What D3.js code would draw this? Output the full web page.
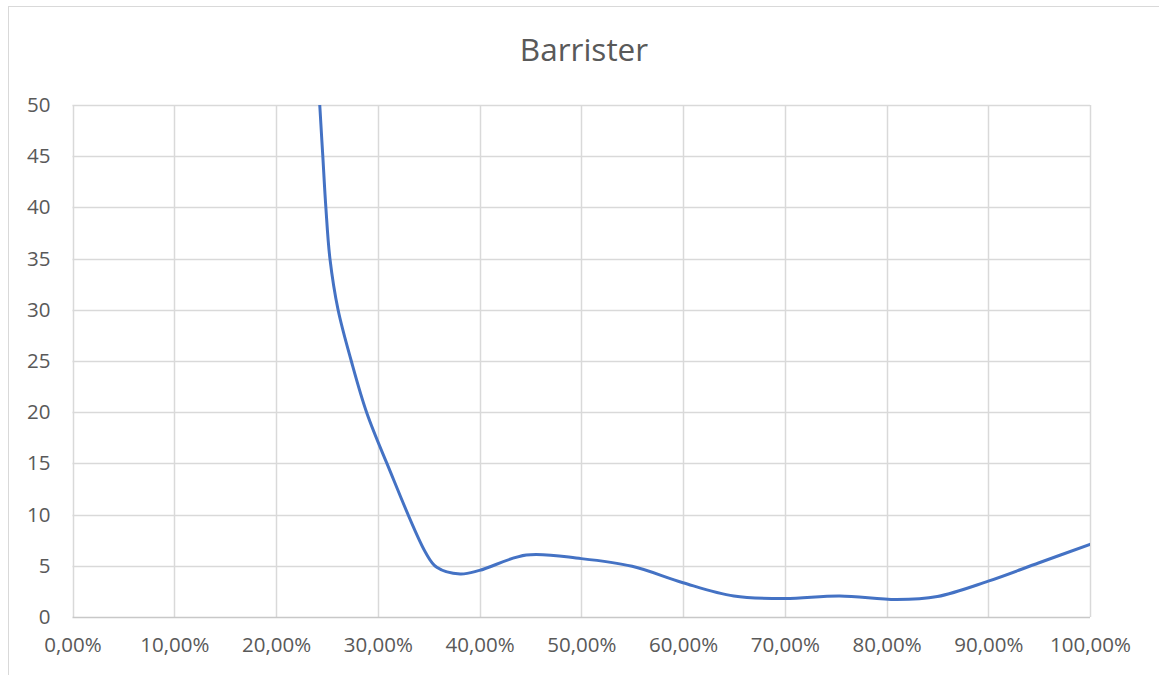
<!DOCTYPE html>
<html>
<head>
<meta charset="utf-8" />
<title>Barrister</title>
<script src="https://d3js.org/d3.v7.min.js"></script>
<style type="text/css">
body { margin: 0; background: #fff; }
text { font-family: "Open Sans", sans-serif; fill: #595959; }
</style>
</head>
<body>
<div id="svg"></div>
<script type="text/javascript">
var width = 1159,
    height = 675;

// data (x share, y value)
var xValues = [0.238, 0.243, 0.246, 0.249, 0.253, 0.261, 0.274, 0.289, 0.309, 0.347, 0.358, 0.381, 0.40, 0.446, 0.50, 0.55, 0.60, 0.65, 0.70, 0.754, 0.81, 0.85, 0.90, 0.95, 1.00];
var yValues = [60, 50, 45, 40, 35, 30, 25, 20, 15, 6.3, 4.85, 4.2, 4.55, 6.05, 5.7, 4.95, 3.35, 2.05, 1.8, 2.05, 1.7, 2.0, 3.5, 5.3, 7.1];
var xTicks = [0, 0.1, 0.2, 0.3, 0.4, 0.5, 0.6, 0.7, 0.8, 0.9, 1.0];
var yTicks = [0, 5, 10, 15, 20, 25, 30, 35, 40, 45, 50];
var title = "Barrister";

var plotLeft = 72.5, plotRight = 1090, plotTop = 105, plotBottom = 617;

var svg = d3.select("#svg")
    .append("svg")
    .attr("width", width)
    .attr("height", height);

// chart frame
svg.append("rect")
    .attr("x", 8.5).attr("y", 6.5)
    .attr("width", 1200).attr("height", 700)
    .attr("fill", "none")
    .attr("stroke", "#d9d9d9");

var xScale = d3.scaleLinear().domain([0, 1]).range([plotLeft, plotRight]);
var yScale = d3.scaleLinear().domain([0, 50]).range([plotBottom, plotTop]);

var fmt = d => d3.format(".2f")(d * 100).replace(".", ",") + "%";

// grid
svg.append("g")
    .selectAll("line")
    .data(xTicks)
    .enter()
    .append("line")
    .attr("x1", d => Math.round(xScale(d)) + 0.5)
    .attr("x2", d => Math.round(xScale(d)) + 0.5)
    .attr("y1", plotTop)
    .attr("y2", plotBottom)
    .attr("stroke", "#d9d9d9")
    .attr("stroke-width", 1.5);

svg.append("g")
    .selectAll("line")
    .data(yTicks)
    .enter()
    .append("line")
    .attr("x1", plotLeft)
    .attr("x2", plotRight)
    .attr("y1", d => Math.round(yScale(d)) + 0.5)
    .attr("y2", d => Math.round(yScale(d)) + 0.5)
    .attr("stroke", d => d == 0 ? "#c8c8c8" : "#d9d9d9")
    .attr("stroke-width", 1.5);

// axes labels
var xAxis = d3.axisBottom(xScale).tickValues(xTicks).tickFormat(fmt).tickSize(0).tickPadding(20);
var yAxis = d3.axisLeft(yScale).tickValues(yTicks).tickSize(0).tickPadding(22);

var gX = svg.append("g")
    .attr("transform", "translate(0," + plotBottom + ")")
    .call(xAxis);
var gY = svg.append("g")
    .attr("transform", "translate(" + plotLeft + ",0)")
    .call(yAxis);

[gX, gY].forEach(g => {
    g.select(".domain").remove();
    g.selectAll("text")
        .attr("font-family", "Open Sans")
        .attr("font-size", 20.5)
        .attr("fill", "#595959");
});

// clip to plot area
svg.append("clipPath")
    .attr("id", "plot")
    .append("rect")
    .attr("x", plotLeft).attr("y", plotTop)
    .attr("width", plotRight - plotLeft).attr("height", plotBottom - plotTop);

var line = d3.line()
    .x((d, i) => xScale(xValues[i]))
    .y(d => yScale(d))
    .curve(d3.curveCatmullRom.alpha(0.5));

svg.append("path")
    .datum(yValues)
    .attr("clip-path", "url(#plot)")
    .attr("d", line)
    .attr("fill", "none")
    .attr("stroke", "#4472c4")
    .attr("stroke-width", 3)
    .attr("stroke-linecap", "round");

svg.append("text")
    .attr("x", 584)
    .attr("y", 61)
    .attr("text-anchor", "middle")
    .attr("font-size", 31.5)
    .text(title);
</script>
</body>
</html>
